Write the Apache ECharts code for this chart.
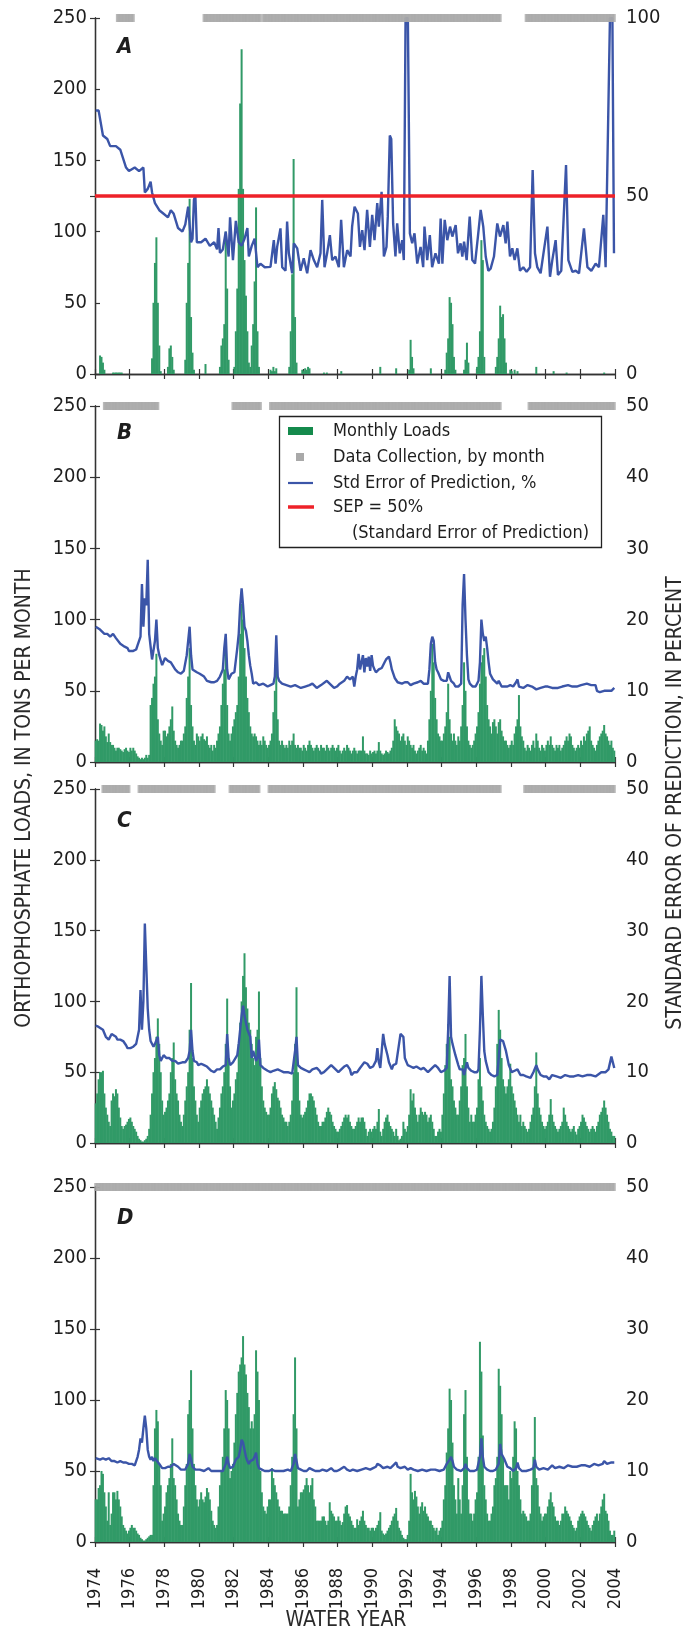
<!DOCTYPE html>
<html><head><meta charset="utf-8">
<script src="https://cdn.jsdelivr.net/npm/echarts@6/dist/echarts.min.js"></script>
<style>html,body{margin:0;padding:0;background:#fff}#chart{width:699px;height:1631px}</style>
</head><body><div id="chart"></div>
<script>
// ---------------- DATA (month index 0 = start of 1974 on the axis) ----------------
const xTickLabels = ['1974','1976','1978','1980','1982','1984','1986','1988','1990','1992','1994','1996','1998','2000','2002','2004'];
const panelLabels = ['A','B','C','D'];
const sepAxisMax = [100, 50, 50, 50];
const sepAxisInterval = [50, 10, 10, 10];
const sepThreshold = 50;

// Panel A monthly loads (tons/month), only months with visible bars: [month, value]
const loadsA = [[3,13],[4,12],[5,8],[6,3],[12,1],[13,1],[14,1],[15,1],[16,1],[17,1],[18,1],
[39,11],[40,50],[41,78],[42,96],[43,50],[44,20],[45,2],[50,5],[51,18],[52,20],[53,12],[54,3],
[62,10],[63,50],[64,78],[65,123],[66,40],[67,15],[68,3],[76,7],
[86,5],[87,20],[88,25],[89,35],[90,100],[91,60],[92,10],
[96,5],[97,30],[98,60],[99,130],[100,190],[101,228],[102,130],[103,80],[104,55],[105,30],[106,8],
[107,5],[108,20],[109,35],[110,65],[111,117],[112,30],[113,5],
[121,3],[122,2],[123,5],[124,2],[125,4],[134,5],[135,30],[136,70],[137,151],[138,40],[139,8],
[143,3],[144,2],[145,4],[146,3],[147,5],[148,4],[158,1],[160,1],[170,2],
[197,5],[208,4],[217,3],[218,24],[219,12],[220,4],[232,4],
[242,3],[243,15],[244,25],[245,54],[246,50],[247,35],[248,12],[249,3],
[255,3],[256,10],[257,22],[258,8],[264,5],[265,12],[266,30],[267,94],[268,80],[269,12],
[277,5],[278,12],[279,25],[280,48],[281,40],[282,42],[283,25],[284,8],
[287,3],[288,2],[290,3],[292,2],[305,5],[317,2],[326,1],[352,1]];

const loadsB = [
15,16,15,27,26,22,25,18,14,20,14,12, 12,10,8,10,10,9,8,7,9,10,8,7,
10,8,10,8,6,4,3,2,3,2,3,5, 3,5,40,45,55,60,76,30,20,15,12,22,
22,18,20,25,30,39,22,15,12,10,12,15, 15,20,25,45,60,80,40,25,15,12,20,18,
15,18,20,16,15,18,12,10,12,8,12,10, 15,20,25,40,55,65,78,40,20,15,20,25,
30,35,40,60,90,111,100,80,60,45,35,25, 20,18,20,18,15,12,15,12,18,15,12,10,
12,15,20,35,50,76,30,15,12,15,12,10, 12,10,15,12,15,20,12,10,12,10,10,8,
12,10,8,12,15,12,10,8,10,12,10,8, 12,10,10,8,12,10,8,10,12,10,8,10,
12,8,6,8,10,8,12,10,8,6,8,10, 8,6,8,8,8,18,8,6,6,5,8,6,
7,8,6,8,14,8,6,5,6,8,7,6, 8,10,15,30,25,22,20,15,18,20,15,12,
18,15,12,10,12,8,6,8,10,12,8,10, 8,6,15,30,50,83,70,45,30,20,18,15,
15,20,25,35,55,30,20,15,20,15,12,18, 15,25,40,70,50,25,15,12,10,12,15,20,
25,35,55,70,75,80,60,40,30,25,20,28, 30,25,20,28,30,22,18,15,15,12,10,12,
15,12,20,25,30,47,25,18,15,10,8,12, 10,8,12,15,10,20,15,10,8,12,10,8,
12,15,12,18,12,10,8,12,10,12,8,10, 12,15,18,15,20,18,12,10,8,10,12,10,
15,12,18,15,20,22,25,15,12,10,8,12, 15,18,20,22,26,20,18,15,12,15,10,8];

const loadsC = [
28,35,45,50,50,51,35,25,20,15,12,30, 35,33,38,35,25,18,12,10,12,13,15,17,
18,15,12,10,8,5,3,2,1,1,2,3, 5,10,20,35,50,60,75,88,70,50,30,20,
22,25,30,35,50,60,71,45,35,30,20,15, 12,20,30,40,50,80,113,60,40,30,20,15,
25,30,35,38,40,45,40,35,30,25,20,15, 10,18,25,35,40,50,70,102,60,40,25,30,
35,45,50,70,85,100,118,134,110,95,85,80, 70,60,55,75,80,107,60,40,30,25,22,20,
20,25,35,40,43,38,32,30,25,20,18,15, 15,12,15,20,30,50,70,110,50,30,20,18,
20,22,25,30,35,35,33,30,25,20,15,12, 12,15,15,18,22,25,22,20,15,12,10,8,
8,10,12,15,18,20,18,20,15,12,10,10, 12,15,18,15,18,18,15,10,5,8,10,8,
10,12,10,15,24,8,5,10,15,18,20,15, 12,10,8,5,10,5,2,3,5,15,10,8,
12,20,38,30,35,25,20,15,20,25,22,20, 22,20,15,18,20,15,10,5,5,8,10,8,
20,35,55,70,84,75,45,40,30,25,20,20, 30,40,55,60,77,40,25,15,20,15,15,20,
25,45,60,40,30,20,15,12,10,8,10,15, 25,40,70,94,80,60,45,40,35,40,45,56,
40,35,30,25,20,15,20,12,15,12,10,8, 10,15,20,25,40,64,35,25,20,15,12,10,
12,15,20,31,20,15,12,10,8,10,12,15, 25,20,15,12,10,8,10,12,8,6,10,12,
15,20,18,15,12,10,8,10,12,10,8,12, 15,20,22,25,30,25,20,15,10,8,5,5];

const loadsD = [
30,30,38,40,50,48,35,25,15,35,12,20, 35,35,30,36,30,25,18,12,10,8,6,8,
10,12,10,10,8,6,5,3,2,1,1,2, 3,4,5,5,40,80,93,85,55,40,15,20,
25,35,40,45,55,73,45,40,30,20,15,12, 12,25,40,55,90,100,121,80,55,40,30,25,
30,35,30,28,32,38,35,30,22,15,12,10, 12,25,40,50,60,80,107,100,80,45,50,55,
70,90,105,120,125,130,145,125,118,105,95,80, 85,80,90,135,120,100,50,35,25,22,20,25,
30,30,52,45,40,35,30,25,22,22,20,20, 20,20,25,40,60,90,130,80,25,30,35,35,
37,40,45,40,35,40,45,30,25,15,15,15, 15,18,18,15,12,15,28,22,20,18,15,15,
18,15,12,14,20,25,26,20,18,15,12,10, 10,16,12,15,18,22,15,12,10,10,8,10,
10,8,10,12,15,21,8,6,5,6,8,10, 12,15,18,20,24,15,10,8,5,3,2,2,
5,15,48,35,30,36,32,25,20,25,28,22, 25,20,18,15,15,12,10,8,10,5,8,10,
15,30,40,63,80,108,100,70,40,30,20,45, 30,20,40,90,107,60,30,20,20,15,20,30,
35,60,141,120,75,40,30,20,15,15,20,25, 40,45,60,122,110,90,60,40,40,40,30,50,
45,60,85,80,50,40,30,20,22,20,18,15, 15,20,40,60,88,45,40,25,20,15,18,20,
20,25,30,35,28,25,18,15,15,12,15,20, 20,25,22,20,18,15,12,10,8,10,15,18,
20,22,20,18,15,12,10,8,12,15,18,20, 15,20,25,30,34,22,20,15,8,5,5,8];

// Standard error of prediction, percent: [month, value]
const sepA = [[0,74],[2,74],[5,67],[8,66],[10,64],[14,64],[17,63],[21,58],[23,57],[27,58],[30,57],[33,58],[34,51],[36,52],[38,54],[39,51],[41,48],[44,46],[47,45],[50,44],[52,46],[54,45],[57,41],[60,40],[62,42],[64,47],[66,37],[67,38],[68,49],[69,50],[70,37],[73,37],[76,38],[79,36],[82,37],[84,35],[85,41],[86,34],[88,35],[90,40],[92,33],[93,44],[95,32],[97,43],[99,37],[101,36],[103,38],[105,41],[106,33],[108,36],[110,38],[112,30],[114,31],[117,30],
[121,30.1],[123.3,37.6],[124.5,31],[125.6,35.7],[127.9,40.9],[129.1,30],[131.4,29],[132.5,42.8],[133.7,33.9],[136,28.3],[137.2,36.7],[139.5,35.3],[141.8,29],[144,32.5],[146.4,28.3],[148.7,34.8],[151,32],[153.3,30],[155.6,33.9],[156.8,48.9],[158.4,30],[160.2,33.9],[162.1,39],[163.7,32],[166,33],[168.3,30],[169.9,43.3],[171.8,30],[174.1,34.8],[176.4,33],[177.5,41.4],[179.2,47],[181.5,45.1],[182.9,35.7],[184.5,40.4],[186.1,34.8],[187.9,46.1],[189.8,35.7],[191.4,44.7],[193,37.6],[194.9,48],[196,41.4],[197.9,51.2],[199.5,33],[201.3,35.7],[202.2,44.2],[203.6,67],[204.6,66],[205.9,42.3],[207.5,33],[208.7,42.3],[210.5,33.9],[212.2,37.6],[213.3,32],[214.5,100],[216.1,100],[217.5,39.5],[219.1,36.7],[220.7,39.5],[222.6,31],[224.9,35.7],[226.7,30],[227.6,41.4],[229.5,32],[231.3,39],[232.9,30],[235.2,33.9],[237.6,31],[238.8,43.7],[240,31],[241.6,43.3],[243.4,37.6],[245.3,41.4],[246.9,38.6],[249.2,41.8],[250.8,33.9],[252.6,36.7],[253.8,33],[255,37.2],[256.8,32],[258.9,44.2],[260.7,32],[262.6,31],[264.6,38.6],[266.5,46.1],[268.3,41.4],[270,33],[271.8,29],[273.4,29.6],[275.7,33],[278,42.3],[279.9,38.6],[282.2,41.8],[283.8,36.7],[285,42.8],[286.8,33],[288.4,35.3],[290,32],[291.9,35.3],[293.7,29],[296,30],[298.3,28.7],[300.7,30],[302.5,57.3],[304.1,33.9],[305.7,30],[308,28.3],[310.3,34.8],[312.7,41.4],[314.5,27.3],[316.1,32],[318.4,37.6],[320,27.8],[322.3,29],[325.6,58.7],[327.2,32],[330,28.7],[332.3,29],[334.6,28.3],[338,40.9],[340.4,30],[343.1,29],[346.1,31],[348.4,30],[351.4,44.7],[353,30],[354.2,29.6],[356,100],[357.7,100],[358.8,33.9]];

const sepB = [[0,19],[1,19],[3,18.6],[6,18],[8,18],[10,17.6],[12,18],[14,17.4],[17,16.6],[20,16.2],[22,16],[23,15.6],[26,15.6],[28,15.8],[29,16.4],[31,17.6],[32,25],[33,19],[34,23],[35,22],[36,28.4],[37,18],[39,14.4],[41,17],[42,20],[43,16],[44,15],[46,13.6],[48,14.6],[50,14.2],[52,14],[55,13],[57,12.6],[59,12.4],[61,12.8],[62,13],[63,15],[64,17],[65,19],[66,15],[67,13],[70,12.6],[72,12.4],[75,12],[77,11.4],[80,11.2],[82,11.2],[84,11.4],[86,12],[88,13],[89,16],[90,18],[91,13],[92,11.6],[94,12.4],[96,12.6],[98,16],[99,18],[100,22],[101,24.4],[102,22],[103,19],[104,18.4],[105,17],[106,15],[107,13.5],[108,12.4],[109,11],[111,11.2],[113,10.8],[116,11],[119,10.6],[121,10.8],[123,11],[124,12],[125,17.8],[126,12],[127,11.4],[129,11],[132,10.8],[135,10.6],[138,10.8],[142,10.4],[145,10.6],[148,10.8],[150,11],[153,10.4],[156,10.8],[160,11.4],[163,10.8],[165,10.4],[167,10.6],[169,11],[172,11.4],[174,12],[176,11.6],[178,12],[179,10.6],[180,12],[181,13],[182,15.2],[183,13],[184,13],[185,15],[186,12.6],[187,14.6],[188,13.4],[189,14.8],[190,12.8],[191,15],[192,13.5],[193,13],[194,12.6],[195,12.4],[196,13],[198,13.2],[200,14],[201,14.4],[203,14.8],[204,14],[205,13],[207,11.8],[209,11.2],[212,11],[214,11.2],[216,11.2],[218,10.8],[220,11],[223,11.2],[225,11.4],[227,11],[228,11.2],[230,11],[231,13],[232,16.6],[233,17.6],[234,17],[235,14],[236,13],[237,12.6],[239,11.6],[241,11.4],[243,11.4],[244,12.6],[245,12.4],[246,11.4],[248,11],[249,10.6],[251,10.6],[253,11],[254,22],[255,26.4],[256,20],[257,15],[258,11.6],[259,11],[261,10.6],[263,10.6],[265,11.4],[266,14],[267,20],[268,18],[269,17],[270,17.6],[271,16],[272,14],[273,12.4],[275,11.6],[276,11.6],[278,11],[279,11.4],[281,10.6],[283,10.6],[285,10.6],[287,10.8],[289,10.6],[291,11.2],[292,11.6],[293,10.6],[294,10.6],[296,10.4],[299,10.8],[302,10.6],[305,10.2],[308,10.4],[311,10.6],[313,10.6],[316,10.4],[320,10.4],[323,10.6],[327,10.8],[330,10.6],[333,10.6],[336,10.8],[340,11],[343,10.8],[346,10.8],[347,10],[349,9.8],[352,10],[355,10],[357,10],[359,10.4]];

const sepC = [[0,16.6],[2,16.4],[5,16],[7,15],[9,14.6],[11,15.4],[12,15.6],[14,15],[15,14.6],[17,14.6],[19,14.4],[21,13.8],[22,13.4],[24,13.4],[26,13.6],[28,14],[30,16],[31,21.6],[32,16],[33,20],[34,31],[35,25],[36,19],[37,16],[38,14.4],[40,13.6],[41,14],[42,13.8],[43,15],[44,12.4],[45,11.6],[47,12.4],[49,12],[51,12],[53,11.6],[55,11.6],[57,11.2],[58,11],[60,11.4],[62,11.4],[64,12],[65,13],[66,16],[67,13],[68,11.6],[70,11.4],[71,11],[73,11.2],[75,11],[77,10.8],[78,10.6],[80,10.2],[82,10],[84,10.4],[86,10.4],[88,10.8],[90,11],[91,15.4],[92,12],[93,11],[95,11.4],[96,11.6],[98,12.4],[99,14],[100,16],[101,18],[102,19.4],[103,18],[104,17],[105,16],[106,15.5],[107,15],[108,12],[109,13],[110,13.2],[111,11.6],[112,12],[113,14.6],[114,11],[116,10.6],[117,10.4],[119,10.2],[121,10],[123,10.2],[126,10.4],[128,10.2],[130,10],[133,10],[136,9.8],[137,10],[138,13],[139,15],[140,11],[142,10.6],[144,10.4],[146,10.2],[148,10],[150,10.4],[153,10.6],[155,10.2],[156,9.8],[158,10],[160,10.4],[163,11],[165,10.6],[168,10],[170,10.4],[172,10.8],[174,11],[176,10.4],[177,9.6],[179,10],[181,10],[183,10.6],[186,11.4],[188,11.2],[190,10.6],[192,10.8],[194,11.6],[195,13.4],[196,11.4],[197,10.6],[198,13],[199,15.4],[200,14],[202,12.4],[203,11.4],[205,10.4],[206,11],[208,11.2],[210,14],[211,15.4],[212,15.4],[213,15],[214,12],[216,11],[218,10.8],[220,10.6],[222,10.8],[225,10.4],[227,10.6],[230,10],[233,10.6],[235,11],[237,10.6],[239,10],[241,10.2],[243,10.6],[244,16],[245,23.6],[246,15],[247,14],[249,12.4],[251,11],[252,10.4],[254,10.4],[255,9.6],[257,11.4],[258,10.6],[260,10.2],[262,10],[264,10],[265,10.4],[266,16],[267,23.6],[268,18],[269,13],[270,11.6],[272,10],[274,9.6],[276,9.4],[278,9.6],[279,12],[280,14.6],[282,14.4],[284,13],[285,12],[286,11],[288,10],[290,10.2],[292,10.4],[294,9.6],[296,9.6],[298,9.4],[301,9.2],[303,10],[305,11],[306,10.4],[308,9.6],[310,9.4],[312,9.4],[314,9],[316,9.6],[317,9.8],[319,9.4],[322,9.2],[325,9.6],[328,9.4],[331,9.4],[334,9.6],[337,9.4],[340,9.6],[343,9.6],[346,9.4],[347,9.6],[350,10],[353,10],[355,10.4],[357,12.2],[359,10.6]];

const sepD = [[0,11.8],[3,11.6],[5,11.8],[7,11.6],[9,11.8],[11,11.4],[13,11.4],[15,11.2],[17,11.4],[19,11.2],[21,11.2],[23,11],[25,11],[27,10.8],[28,11],[29,12],[30,13],[31,14.6],[32,14],[33,16],[34,17.8],[35,16],[36,13],[37,12],[38,11.6],[39,12],[40,11.4],[41,11.8],[42,11.6],[44,11],[46,10.4],[48,10.4],[50,10.6],[52,10.6],[54,11],[55,11],[57,10.6],[59,10.2],[62,10.2],[64,11],[65,12.4],[66,11.6],[67,10.6],[69,10.2],[72,10.2],[75,10],[78,10.4],[80,10],[83,10],[86,10],[88,10],[90,11],[91,12],[92,11],[93,10.4],[95,10.6],[97,11.6],[99,12],[100,13],[101,14.4],[102,14],[103,13],[104,12],[105,11.4],[106,11],[107,11.4],[109,11.6],[110,12],[111,12.6],[112,11],[113,10.4],[115,10.2],[117,10],[120,10],[122,10.2],[124,10],[127,10],[130,10],[133,10.2],[135,10],[137,11],[138,12.4],[139,11.4],[140,10.4],[142,10.2],[144,10],[146,10],[148,10.4],[150,10.2],[152,10],[155,10],[157,10.2],[160,10],[163,10.4],[165,10],[167,10],[169,10.2],[172,10.6],[174,10.2],[176,10],[178,10.2],[181,10],[184,10.2],[187,10.4],[190,10.2],[192,10.4],[194,10.6],[195,11],[197,10.8],[199,10.4],[202,10.6],[204,10.4],[206,10.8],[208,11.2],[209,10.6],[211,10.4],[214,10.6],[216,10.2],[218,10.4],[220,10.2],[223,10],[226,10.2],[229,10],[232,10.2],[235,10.2],[238,10],[241,10.2],[243,11],[245,11.6],[246,12],[247,11.4],[248,10.6],[250,10.2],[253,10],[255,10.4],[256,11],[257,10.4],[259,10],[262,10],[264,10.2],[266,12],[267,14.6],[268,12],[269,10.6],[271,10.2],[273,10],[275,10],[277,10.2],[279,11],[280,13.8],[281,12.4],[282,12],[283,11.6],[285,10.6],[287,10.4],[289,10],[291,10.4],[292,11.2],[293,10.4],[295,10],[298,10],[301,10.2],[303,10.4],[304,11.6],[305,10.6],[307,10.2],[310,10.4],[313,10.2],[316,10.8],[318,10.4],[321,10.6],[324,10.4],[327,10.8],[330,10.6],[333,10.6],[336,10.8],[339,10.8],[342,10.6],[345,11],[348,10.8],[351,11],[352,11.4],[354,11],[357,11.2],[359,11.2]];

// Data collection periods, [first month, last month]
const collectA = [[15,26],[75,114],[116,280],[298,359]];
const collectB = [[6,43],[95,114],[121,280],[300,359]];
const collectC = [[5,23],[30,82],[93,113],[120,280],[297,359]];
const collectD = [[0,359]];

// ---------------- LAYOUT / STYLE ----------------
const FONT = '"Liberation Sans Narrow","DejaVu Sans Condensed","Arial Narrow",sans-serif';
const GREEN = '#319a67', BLUE = '#3b55a8', RED = '#ee2229', GRAY = '#a9a9a9', INK = '#1e1e1e';
const PLOT_LEFT = 95, PLOT_RIGHT = 84;
const panelBoxes = [{top:18,height:356},{top:406,height:356},{top:789,height:354},{top:1187,height:355}];

const loadsAll = [
  loadsA.map(([m,v]) => [m + 0.5, v]),
  loadsB.map((v,i) => [i + 0.5, v]),
  loadsC.map((v,i) => [i + 0.5, v]),
  loadsD.map((v,i) => [i + 0.5, v])
];
const sepAll = [sepA, sepB, sepC, sepD].map(s => s.map(([m,v]) => [m + 0.5, v]));
const collectAll = [collectA, collectB, collectC, collectD].map(r => {
  const pts = [];
  r.forEach(([a,b]) => { for (let m = a; m <= b; m++) pts.push([m + 0.5, 250]); });
  return pts;
});

const grid = [], xAxis = [], yAxis = [], series = [];
panelBoxes.forEach((p, k) => {
  grid.push({left: PLOT_LEFT, right: PLOT_RIGHT, top: p.top, height: p.height, containLabel: false});
  const axisLine = {show: true, lineStyle: {color: '#333', width: 1.3}};
  const tick = {show: true, inside: true, length: 5, lineStyle: {color: '#333', width: 1.2}};
  xAxis.push({type: 'value', gridIndex: k, position: 'bottom', min: 0, max: 360, interval: 24,
    axisLine, axisTick: tick, splitLine: {show: false},
    axisLabel: {show: k === 3, rotate: 90, margin: 26, fontSize: 18, fontFamily: FONT, color: INK,
      formatter: v => xTickLabels[Math.round(v / 24)]}});
  xAxis.push({type: 'value', gridIndex: k, position: 'top', min: 0, max: 360, interval: 24,
    axisLine, axisTick: tick, splitLine: {show: false}, axisLabel: {show: false}});
  yAxis.push({type: 'value', gridIndex: k, position: 'left', min: 0, max: 250, interval: 50,
    axisLine, axisTick: tick, splitLine: {show: false},
    axisLabel: {margin: 8, fontSize: 20, fontFamily: FONT, color: INK}});
  yAxis.push({type: 'value', gridIndex: k, position: 'right', min: 0, max: sepAxisMax[k], interval: sepAxisInterval[k],
    axisLine, axisTick: tick, splitLine: {show: false},
    axisLabel: {margin: 11, fontSize: 20, fontFamily: FONT, color: INK}});

  series.push({name: 'Monthly Loads', type: 'bar', xAxisIndex: 2*k, yAxisIndex: 2*k,
    data: loadsAll[k], barWidth: 2, itemStyle: {color: GREEN}, z: 2, silent: true});
  const line = {name: 'Std Error of Prediction, %', type: 'line', xAxisIndex: 2*k, yAxisIndex: 2*k+1,
    data: sepAll[k], showSymbol: false, lineStyle: {color: BLUE, width: 2.4}, itemStyle: {color: BLUE},
    z: 3, silent: true};
  if (k === 0) {
    line.markLine = {silent: true, symbol: 'none', label: {show: false},
      lineStyle: {color: RED, width: 3.5, type: 'solid'}, data: [{yAxis: sepThreshold}], z: 4};
  }
  series.push(line);
  series.push({name: 'Data Collection, by month', type: 'scatter', xAxisIndex: 2*k, yAxisIndex: 2*k,
    data: collectAll[k], symbol: 'rect', symbolSize: [3, 8], itemStyle: {color: GRAY},
    clip: false, z: 5, silent: true});
});

// ---------------- TEXT / LEGEND ----------------
const graphic = [];
const labelY = [48, 434, 822, 1219];
panelLabels.forEach((t, k) => graphic.push({type: 'text', left: 117, top: labelY[k] - 12,
  style: {text: t, font: 'italic bold 22px ' + FONT, fill: INK}}));
graphic.push({type: 'text', x: 25, y: 798, rotation: Math.PI / 2,
  style: {text: 'ORTHOPHOSPHATE LOADS, IN TONS PER MONTH', font: '21px ' + FONT, fill: '#2a2a2a',
    textAlign: 'center', textVerticalAlign: 'middle'}});
graphic.push({type: 'text', x: 676, y: 803, rotation: Math.PI / 2,
  style: {text: 'STANDARD ERROR OF PREDICTION, IN PERCENT', font: '21px ' + FONT, fill: '#2a2a2a',
    textAlign: 'center', textVerticalAlign: 'middle'}});
graphic.push({type: 'text', x: 346, y: 1621,
  style: {text: 'WATER YEAR', font: '21px ' + FONT, fill: '#2a2a2a', textAlign: 'center', textVerticalAlign: 'middle'}});

// legend box in panel B
graphic.push({type: 'rect', shape: {x: 279.5, y: 416.5, width: 322, height: 131},
  style: {fill: '#fff', stroke: '#222', lineWidth: 1.3}, z: 10});
graphic.push({type: 'rect', shape: {x: 288, y: 427, width: 25, height: 8}, style: {fill: '#148a4c'}, z: 11});
graphic.push({type: 'rect', shape: {x: 296, y: 453, width: 8, height: 8}, style: {fill: GRAY}, z: 11});
graphic.push({type: 'line', shape: {x1: 288, y1: 483, x2: 313, y2: 483}, style: {stroke: BLUE, lineWidth: 2.2}, z: 11});
graphic.push({type: 'line', shape: {x1: 288, y1: 507, x2: 314, y2: 507}, style: {stroke: RED, lineWidth: 3.5}, z: 11});
const legendTexts = [['Monthly Loads', 333, 431], ['Data Collection, by month', 333, 457],
  ['Std Error of Prediction, %', 333, 483], ['SEP = 50%', 333, 507], ['(Standard Error of Prediction)', 352, 533]];
legendTexts.forEach(([t, x, y]) => graphic.push({type: 'text', x, y, z: 11,
  style: {text: t, font: '18px ' + FONT, fill: INK, textVerticalAlign: 'middle'}}));

const chart = echarts.init(document.getElementById('chart'), null, {renderer: 'canvas'});
chart.setOption({animation: false, backgroundColor: '#fff', grid, xAxis, yAxis, series, graphic});
</script></body></html>
